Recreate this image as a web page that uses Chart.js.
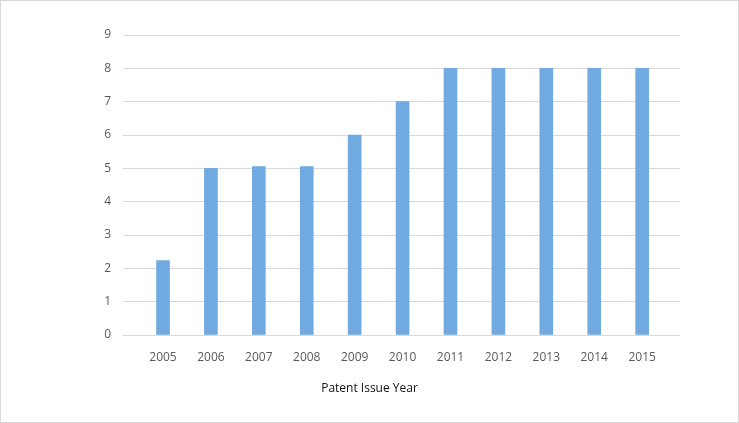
<!DOCTYPE html>
<html>
<head>
<meta charset="utf-8">
<script src="https://cdn.jsdelivr.net/npm/chart.js@4"></script>
<style>
    html, body { margin: 0; padding: 0; background: #fff; }
    #wrap { position: relative; width: 739px; height: 423px; }
    #frame {
        position: absolute; left: 0; top: 0; width: 737px; height: 421px;
        border: 1px solid #d9d9d9; pointer-events: none;
    }
</style>
</head>
<body>
<div id="wrap">
    <canvas id="patentChart" width="739" height="423"></canvas>
    <div id="frame"></div>
</div>
<script>
// Patents issued per year
const years = [2005, 2006, 2007, 2008, 2009, 2010, 2011, 2012, 2013, 2014, 2015];
const patentCounts = [2.23, 5, 5.05, 5.05, 6, 7, 8, 8, 8, 8, 8];
const yTicks = [0, 1, 2, 3, 4, 5, 6, 7, 8, 9];

const tickFont = { family: "'Open Sans', 'Noto Sans', sans-serif", size: 12 };

const ctx = document.getElementById('patentChart').getContext('2d');

new Chart(ctx, {
    type: 'bar',
    data: {
        datasets: [{
            data: years.map((yr, i) => ({ x: yr, y: patentCounts[i] })),
            backgroundColor: '#71a9e1',
            borderWidth: 0,
            barThickness: 13
        }]
    },
    options: {
        responsive: false,
        animation: false,
        layout: { padding: { left: 0, right: 0, top: 35, bottom: 0 } },
        plugins: {
            legend: { display: false },
            tooltip: { enabled: false },
            title: {
                display: true,
                position: 'bottom',
                text: 'Patent Issue Year',
                color: '#111111',
                font: { family: "'Open Sans', 'Noto Sans', sans-serif", size: 12, weight: 'normal' },
                padding: { top: 2, bottom: 27 }
            }
        },
        scales: {
            x: {
                type: 'linear',
                offset: false,
                min: 2004.165,
                max: 2015.79,
                afterBuildTicks: scale => {
                    scale.ticks = years.map(v => ({ value: v }));
                },
                afterFit: scale => { scale.height = 44.6; },
                grid: { display: false, drawTicks: false },
                border: { display: false },
                ticks: {
                    color: '#595959',
                    font: tickFont,
                    padding: 15,
                    maxRotation: 0,
                    autoSkip: false,
                    callback: value => String(value)
                }
            },
            y: {
                min: 0,
                max: 9,
                afterBuildTicks: scale => {
                    scale.ticks = yTicks.map(v => ({ value: v }));
                },
                afterFit: scale => { scale.width = 123; },
                grid: { color: '#d9d9d9', lineWidth: 1, drawTicks: false },
                border: { display: false },
                ticks: {
                    color: '#595959',
                    font: tickFont,
                    padding: 12
                }
            },
            // empty right-hand spacer so the plot ends where the reference does
            spacer: {
                position: 'right',
                afterFit: scale => { scale.width = 59; },
                grid: { display: false, drawTicks: false },
                border: { display: false },
                ticks: { display: false }
            }
        }
    }
});
</script>
</body>
</html>
